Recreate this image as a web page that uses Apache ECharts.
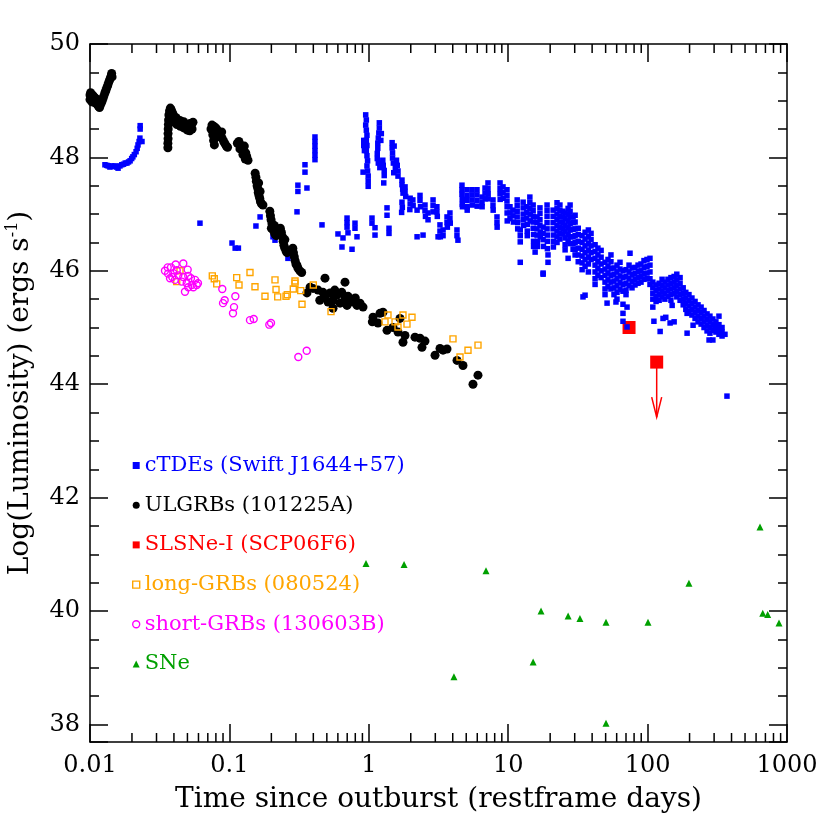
<!DOCTYPE html>
<html><head><meta charset="utf-8">
<script src="https://cdn.jsdelivr.net/npm/echarts@6/dist/echarts.min.js"></script>
<style>html,body{margin:0;padding:0;background:#fff}#c{width:830px;height:830px}</style>
</head><body><div id="c"></div>
<script>
const xTickLabels = ['0.01','0.1','1','10','100','1000'];
const xMinorTicks = [0.02,0.03,0.04,0.05,0.06,0.07,0.08,0.09,0.2,0.3,0.4,0.5,0.6,0.7,0.8,0.9,2,3,4,5,6,7,8,9,20,30,40,50,60,70,80,90,200,300,400,500,600,700,800,900];

const ctdeData = [
[0.0128,47.87],[0.0132,47.86],[0.0135,47.85],[0.0139,47.83],[0.0143,47.85],[0.0147,47.84],[0.0151,47.85],[0.0155,47.83],[0.0159,47.81],[0.0164,47.85],[0.0169,47.87],[0.0174,47.88],[0.0179,47.90],[0.0184,47.90],[0.0189,47.92],[0.0194,47.94],[0.0199,47.98],[0.0203,48.01],[0.0208,48.05],[0.0214,48.10],[0.0218,48.16],[0.0221,48.22],[0.0225,48.28],[0.0228,48.34],[0.0236,48.28],[0.0229,48.50],[0.0229,48.56],
[0.0615,46.84],[0.1044,46.49],[0.110,46.40],[0.116,46.40],[0.155,46.79],[0.166,46.95],[0.2055,46.60],[0.2124,46.54],[0.263,46.22],[0.3055,47.04],[0.310,47.40],[0.310,47.51],[0.360,47.46],[0.3485,47.74],[0.3485,47.87],[0.411,48.36],[0.411,48.28],[0.411,48.20],[0.411,48.12],[0.411,48.04],[0.411,47.96],[0.4616,46.81],
[0.601,46.65],[0.653,46.58],[0.709,46.67],[0.758,46.38],[0.796,46.84],[0.796,46.75],[0.823,46.60],[0.698,46.93],[0.698,46.85],[0.698,46.77],[0.642,46.42],[1.054,46.93],[1.054,46.84],[1.108,46.76],[1.108,46.63],[1.351,47.11],[1.351,46.98],[1.396,46.75],[1.396,46.66],
[0.95,48.75],[0.96,48.66],[0.95,48.57],[0.96,48.48],[0.97,48.39],[0.96,48.30],[0.97,48.21],[0.96,48.12],[0.97,48.03],[0.98,47.94],[0.97,47.85],[0.98,47.76],[0.99,47.67],[0.99,47.58],[0.99,47.49],[0.92,48.30],[0.92,48.21],[0.93,48.12],[0.91,47.74],
[1.19,48.61],[1.19,48.52],[1.18,48.43],[1.17,48.34],[1.16,48.25],[1.16,48.16],[1.15,48.07],[1.15,47.98],[1.17,47.90],[1.20,47.82],[1.26,47.95],[1.27,47.86],[1.29,47.77],[1.29,47.68],[1.28,47.55],[1.22,48.30],[1.23,48.42],
[1.47,48.26],[1.47,48.17],[1.48,48.08],[1.48,47.99],[1.50,47.90],[1.51,47.73],[1.52,48.20],[1.55,47.82],[1.58,47.95],[1.60,47.86],[1.62,47.76],[1.62,47.67],
[1.73,47.60],[1.73,47.52],[1.75,47.44],[1.76,47.37],[1.82,47.48],[1.82,47.40],[1.84,47.31],[1.73,47.21],[1.74,47.12],[1.72,47.03],
[1.98,47.28],[1.98,47.18],[1.97,47.08],[2.07,47.25],[2.08,47.15],[2.33,47.33],[2.33,47.24],[2.35,47.13],[2.22,47.07],
[2.53,47.16],[2.53,47.06],[2.55,46.96],[2.66,47.02],[2.66,46.90],[2.89,47.25],[2.89,47.15],[2.89,47.04],[3.08,47.13],[3.08,47.04],[3.10,46.96],
[3.24,46.81],[3.24,46.70],[3.26,46.60],[3.41,46.72],[3.41,46.62],[3.64,46.95],[3.64,46.85],[3.66,46.77],[3.82,47.02],[3.82,46.92],[3.84,46.84],
[4.29,46.72],[4.29,46.62],[4.36,46.54],[4.66,47.51],[4.66,47.43],[4.66,47.35],[4.68,47.26],[4.68,47.17],[4.70,47.13],
[5.06,47.43],[5.06,47.33],[5.06,47.24],[5.08,47.13],[5.08,47.07],[5.50,47.43],[5.50,47.34],[5.50,47.25],[5.52,47.16],
[5.97,47.43],[5.97,47.34],[5.97,47.24],[5.99,47.14],[6.49,47.30],[6.49,47.20],[6.50,47.13],[6.82,47.46],[6.82,47.37],[6.84,47.27],
[7.16,47.55],[7.16,47.45],[7.18,47.36],[7.18,47.27],[7.78,47.25],[7.78,47.15],[7.80,47.07],[8.31,46.95],[8.31,46.85],[8.33,46.77],
[8.74,47.55],[8.74,47.45],[8.74,47.36],[8.76,47.26],[9.18,47.48],[9.18,47.38],[9.20,47.28],
[9.80,47.43],[9.80,47.33],[9.80,47.23],[9.82,47.13],[9.82,47.02],[9.84,46.88],[10.3,47.13],[10.3,47.02],[10.3,46.92],[10.8,47.07],[10.8,46.97],[10.9,46.86],
[11.6,47.25],[11.6,47.15],[11.6,47.05],[11.6,46.95],[11.7,46.85],[11.7,46.74],[12.2,46.72],[12.2,46.62],[12.2,46.51],
[12.8,47.21],[12.8,47.11],[12.8,47.00],[12.8,46.90],[12.9,46.80],[13.6,47.13],[13.6,47.03],[13.6,46.93],[13.7,46.82],[13.7,46.70],[13.7,46.62],
[14.3,47.30],[14.3,47.20],[14.3,47.10],[14.4,47.00],[14.4,46.88],
[15.1,47.16],[15.1,47.06],[15.1,46.96],[15.1,46.86],[15.1,46.75],[15.2,46.64],[15.2,46.52],[15.2,46.43],
[16.1,46.95],[16.1,46.85],[16.1,46.74],[16.1,46.63],[16.2,46.52],[16.2,46.43],
[16.9,47.11],[16.9,47.01],[16.9,46.90],[16.9,46.80],[17.0,46.68],[17.0,46.60],
[17.8,46.77],[17.8,46.66],[17.8,46.55],[17.9,46.43],
[19.0,47.16],[19.0,47.06],[19.0,46.96],[19.0,46.85],[19.0,46.74],[19.1,46.63],[19.1,46.52],[19.1,46.39],[19.3,46.28],
[21.0,47.07],[21.0,46.96],[21.0,46.85],[21.0,46.74],[21.1,46.63],[21.1,46.52],[21.1,46.42],
[17.8,45.96],[12.2,46.15],[2.22,46.60],[2.45,46.63],[3.14,46.60],
[22.4,47.20],[22.4,47.10],[22.4,47.00],[22.4,46.90],[22.4,46.80],[22.4,46.70],[22.4,46.60],[22.4,46.50],
[23.5,47.16],[23.5,47.06],[23.5,46.96],[23.5,46.86],[23.5,46.76],[23.5,46.66],[23.5,46.56],
[24.7,47.05],[24.7,46.95],[24.7,46.85],[24.7,46.75],[24.7,46.65],
[25.6,47.02],[25.6,46.92],[25.6,46.80],[25.6,46.70],[25.6,46.58],[25.6,46.46],[25.6,46.37],
[26.9,47.10],[26.9,47.00],[26.9,46.88],[26.9,46.76],[26.9,46.64],[26.9,46.52],
[27.8,47.16],[27.8,47.05],[27.8,46.95],[27.8,46.83],[27.8,46.72],[27.8,46.60],[27.8,46.48],
[29.2,46.95],[29.2,46.85],[29.2,46.73],[29.2,46.60],[29.2,46.48],[29.2,46.38],
[30.2,46.98],[30.2,46.86],[30.2,46.74],[30.2,46.62],[30.2,46.50],[30.2,46.38],[30.2,46.28],
[31.8,46.75],[31.8,46.64],[31.8,46.52],[31.8,46.40],[31.8,46.28],[31.8,46.16],
[33.9,46.62],[33.9,46.50],[33.9,46.38],[33.9,46.26],[33.9,46.14],[33.9,46.02],
[35.6,46.68],[35.6,46.56],[35.6,46.44],[35.6,46.32],[35.6,46.20],[35.6,46.08],
[37.6,46.72],[37.6,46.60],[37.6,46.48],[37.6,46.36],[37.6,46.24],[37.6,46.12],[37.6,45.98],
[39.3,46.66],[39.3,46.55],[39.3,46.44],[39.3,46.32],[39.3,46.20],
[42.0,46.46],[42.0,46.34],[42.0,46.22],[42.0,46.10],[42.0,45.98],[42.0,45.86],[42.0,45.76],
[44.0,46.40],[44.0,46.28],[44.0,46.16],[44.0,46.04],[44.0,45.92],
[46.4,46.36],[46.4,46.24],[46.4,46.12],[46.4,46.00],[46.4,45.88],
[49.5,46.15],[49.5,46.03],[49.5,45.92],[49.5,45.80],[49.5,45.68],[49.5,45.58],
[52.0,46.20],[52.0,46.08],[52.0,45.96],[52.0,45.84],[52.0,45.72],
[54.6,46.28],[54.6,46.16],[54.6,46.04],[54.6,45.92],[54.6,45.80],[54.6,45.68],
[57.4,46.05],[57.4,45.94],[57.4,45.82],[57.4,45.70],[57.4,45.58],
[60.3,46.10],[60.3,45.98],[60.3,45.86],[60.3,45.74],[60.3,45.62],[60.3,45.50],
[63.4,46.15],[63.4,46.03],[63.4,45.91],[63.4,45.79],[63.4,45.67],
[66.6,46.00],[66.6,45.88],[66.6,45.76],[66.6,45.64],
[70.0,46.02],[70.0,45.90],[70.0,45.78],[70.0,45.66],[70.0,45.58],
[73.6,46.10],[73.6,45.98],[73.6,45.86],[73.6,45.74],
[77.3,46.05],[77.3,45.93],[77.3,45.81],[77.3,45.70],
[81.2,46.06],[81.2,45.95],[81.2,45.85],[81.2,45.75],
[85.4,46.10],[85.4,45.99],[85.4,45.88],[85.4,45.78],
[89.7,46.12],[89.7,46.00],[89.7,45.90],[89.7,45.80],
[94.2,46.18],[94.2,46.06],[94.2,45.95],[94.2,45.85],
[99.0,46.20],[99.0,46.08],[99.0,45.96],[99.0,45.86],
[104,46.22],[104,46.10],[104,45.98],[104,45.86],[104,45.76],
[109,45.80],[109,45.70],[109,45.60],[109,45.50],
[115,45.75],[115,45.65],[115,45.55],[115,45.46],
[121,45.78],[121,45.68],[121,45.58],[121,45.48],
[127,45.85],[127,45.74],[127,45.64],[127,45.54],
[133,45.80],[133,45.70],[133,45.60],[133,45.50],
[140,45.85],[140,45.75],[140,45.65],[140,45.55],
[147,45.88],[147,45.78],[147,45.68],[147,45.58],[147,45.48],
[155,45.90],[155,45.80],[155,45.70],[155,45.60],
[162,45.94],[162,45.84],[162,45.74],[162,45.64],[162,45.54],
[171,45.88],[171,45.78],[171,45.68],[171,45.58],[171,45.48],
[180,45.70],[180,45.60],[180,45.50],[180,45.40],
[188,45.62],[188,45.52],[188,45.42],[188,45.32],
[198,45.58],[198,45.48],[198,45.38],[198,45.28],
[208,45.52],[208,45.42],[208,45.32],[208,45.22],
[219,45.46],[219,45.36],[219,45.26],[219,45.16],
[230,45.40],[230,45.30],[230,45.20],[230,45.10],
[242,45.36],[242,45.26],[242,45.16],[242,45.06],
[254,45.30],[254,45.20],[254,45.10],[254,45.00],
[267,45.24],[267,45.14],[267,45.04],[267,44.94],
[280,45.20],[280,45.10],[280,45.00],[280,44.90],
[294,45.15],[294,45.05],[294,44.95],
[309,45.10],[309,45.00],[309,44.92],
[325,45.05],[325,44.96],[325,44.88],
[342,45.00],[342,44.92],[342,44.85],
[17.8,45.94],[19.3,46.15],[15.6,46.33],[26.9,46.22],[34.4,45.54],[35.6,45.57],[51.2,45.43],[59.3,45.45],[66.6,45.41],[71.2,45.36],[66.6,45.25],[66.6,45.11],[71.2,45.01],[74.8,46.31],[109,45.36],[111,45.11],[123,44.93],[129,45.16],[135,45.18],[150,45.39],[145,45.08],[155,45.10],[192,44.90],[192,45.25],[212,45.04],[276,44.78],[294,44.78],[304,45.02],[325,45.20],[359,44.88],[371,43.79]
];

const ulgrbData = [
[0.0100,49.10],[0.0100,49.02],[0.0101,49.14],[0.0102,49.06],[0.0103,48.98],[0.0104,49.10],[0.0105,49.03],[0.0106,49.08],[0.0107,48.97],[0.0108,49.05],[0.0109,49.00],[0.0110,49.04],[0.0111,48.95],[0.0112,48.99],[0.0113,48.93],[0.0114,48.96],[0.0115,48.90],[0.0116,48.92],[0.0117,48.88],[0.0118,48.91],[0.0120,48.95],[0.0122,48.99],[0.0124,49.04],[0.0126,49.09],[0.0128,49.14],[0.0130,49.18],[0.0132,49.23],[0.0134,49.27],[0.0136,49.32],[0.0138,49.36],[0.0140,49.40],[0.0142,49.44],[0.0143,49.48],[0.0144,49.42],
[0.0362,48.17],[0.0362,48.25],[0.0363,48.33],[0.0363,48.42],[0.0364,48.50],[0.0365,48.58],[0.0366,48.66],[0.0368,48.75],[0.0372,48.82],[0.0377,48.87],[0.0382,48.84],[0.0388,48.80],[0.0395,48.76],[0.0400,48.72],[0.0407,48.69],[0.0415,48.70],[0.0422,48.66],[0.0430,48.64],[0.0442,48.65],[0.0450,48.62],[0.0460,48.60],[0.0470,48.63],[0.0480,48.58],[0.0490,48.55],[0.0500,48.53],[0.0510,48.56],[0.0522,48.60],[0.0530,48.54],[0.0540,48.50],[0.0548,48.62],[0.0375,48.70],[0.0390,48.68],[0.0405,48.62],[0.0420,48.58],[0.0445,48.55],[0.0470,48.52],[0.0500,48.48],[0.0520,48.47],
[0.0738,48.50],[0.0750,48.57],[0.0770,48.55],[0.0790,48.53],[0.0810,48.50],[0.0830,48.46],[0.0850,48.43],[0.0870,48.38],[0.0890,48.33],[0.0910,48.28],[0.0930,48.24],[0.0950,48.20],[0.0970,48.18],[0.0760,48.40],[0.0770,48.30],[0.0780,48.22],[0.0800,48.35],[0.0880,48.45],[0.0760,48.48],
[0.114,48.25],[0.117,48.28],[0.120,48.22],[0.123,48.18],[0.126,48.13],[0.128,48.20],[0.131,48.08],[0.133,48.02],[0.136,47.95],[0.130,47.97],[0.125,48.05],[0.119,48.15],
[0.153,47.72],[0.155,47.65],[0.156,47.58],[0.158,47.50],[0.160,47.45],[0.161,47.38],[0.163,47.33],[0.165,47.28],[0.167,47.22],[0.170,47.18],[0.174,47.16],[0.162,47.55],[0.166,47.40],
[0.195,47.05],[0.197,46.97],[0.199,46.90],[0.202,46.83],[0.205,46.76],[0.208,46.70],[0.212,46.65],[0.217,46.62],[0.210,46.80],[0.200,46.75],
[0.232,46.75],[0.236,46.68],[0.240,46.60],[0.243,46.52],[0.246,46.45],[0.250,46.40],[0.255,46.35],[0.259,46.32],[0.250,46.55],
[0.285,46.40],[0.288,46.32],[0.292,46.25],[0.296,46.18],[0.300,46.12],[0.310,46.05],[0.320,46.00],[0.330,45.97],[0.305,46.10],
[0.360,45.61],[0.379,45.71],[0.398,45.69],[0.432,45.66],[0.469,45.62],[0.485,45.54],[0.527,45.61],[0.554,45.48],[0.591,45.57],[0.622,45.43],[0.675,45.80],[0.675,45.52],[0.698,45.39],[0.733,45.48],[0.770,45.45],[0.823,45.39],[0.865,45.43],[0.909,45.36],[0.554,45.34],[0.445,45.48],[0.510,45.45],[0.570,45.66],[0.640,45.62],[0.710,45.55],[0.800,45.52],[0.485,45.87],
[1.072,45.18],[1.060,45.10],[1.164,45.08],[1.203,45.25],[1.264,45.27],[1.351,44.95],[1.492,45.00],[1.620,44.92],[1.674,45.16],[1.759,44.74],[1.818,44.86],[2.145,44.83],[2.330,44.81],[2.530,44.76],[2.407,44.65],[2.986,44.51],[3.242,44.63],[3.407,44.60],[3.639,44.62],[4.293,44.42],[4.740,44.33],[6.07,44.16],[5.59,44.00]
];

const slsnData = [[73.6,45.00],[116.2,44.39]];
const slsnLimit = [[116.2,44.39,43.42]];

const longGrbData = [
[0.0754,45.91],[0.0779,45.86],[0.0811,45.77],[0.1128,45.88],[0.1172,45.75],[0.1405,45.97],[0.1526,45.72],[0.1800,45.55],[0.2124,45.84],[0.2160,45.67],[0.2221,45.54],[0.2547,45.55],[0.2603,45.58],[0.2873,45.68],[0.2955,45.82],[0.2955,45.78],[0.3248,45.65],[0.3318,45.41],[0.3999,45.75],[0.5357,45.28],[0.0442,46.00],[0.0419,45.81],
[1.373,45.22],[1.307,45.10],[1.542,45.10],[1.620,45.01],[1.759,45.22],[1.879,45.06],[2.041,45.18],[4.018,44.80],[4.511,44.48],[5.148,44.60],[6.072,44.69]
];

const shortGrbData = [
[0.0361,46.06],[0.0381,46.06],[0.0412,46.11],[0.0467,46.13],[0.0502,46.02],[0.0363,45.95],[0.0396,45.96],[0.0430,45.92],[0.0467,45.89],[0.0507,45.91],[0.0530,45.87],[0.0567,45.84],[0.0375,45.87],[0.0407,45.84],[0.0455,45.81],[0.0494,45.78],[0.0537,45.75],[0.0583,45.75],[0.0551,45.71],[0.0480,45.63],[0.0507,45.71],[0.0389,45.89],[0.0419,46.01],[0.0345,46.00],[0.0595,45.78],
[0.0889,45.68],[0.1103,45.55],[0.0925,45.48],[0.0900,45.43],[0.1079,45.36],[0.1061,45.25],[0.1405,45.13],[0.1494,45.15],[0.1933,45.05],[0.1988,45.08],[0.3122,44.48],[0.3585,44.59]
];

const sneData = [
[0.955,40.84],[1.79,40.82],[4.08,38.84],[6.93,40.71],[15.1,39.10],[17.2,40.00],[26.9,39.91],[32.7,39.87],[50.3,39.80],[50.3,38.02],[100.7,39.80],[198,40.49],[640,41.48],[670,39.96],[727,39.94],[876,39.79]
];

const seriesNames = ['cTDEs (Swift J1644+57)','ULGRBs (101225A)','SLSNe-I (SCP06F6)','long-GRBs (080524)','short-GRBs (130603B)','SNe'];
const seriesColors = ['#0000ff','#000000','#ff0000','#ffa500','#ff00ff','#00a000'];

const FONT = 'DejaVu Serif';
const chart = echarts.init(document.getElementById('c'), null, {renderer:'canvas'});

function xAxisDef(pos, showLabel) {
  return {
    type:'log', logBase:10, min:0.01, max:1000, splitNumber:5, position:pos,
    axisLine:{show:true, onZero:false, lineStyle:{color:'#000', width:1.5}},
    axisTick:{show:true, inside:true, length:18, lineStyle:{color:'#000', width:1.5}},
    minorTick:{show:false},
    splitLine:{show:false}, minorSplitLine:{show:false},
    axisLabel:{show:showLabel, margin:12, fontFamily:FONT, fontSize:24, color:'#000',
      formatter: v => { const i = Math.round(Math.log10(v)) + 2; return xTickLabels[i] || ''; }},
    name: showLabel ? 'Time since outburst (restframe days)' : '',
    nameLocation:'middle', nameGap:44,
    nameTextStyle:{fontFamily:FONT, fontSize:28, color:'#000'}
  };
}
function yAxisDef(pos, showLabel) {
  return {
    type:'value', min:37.69, max:50, splitNumber:6, position:pos,
    axisLine:{show:true, onZero:false, lineStyle:{color:'#000', width:1.5}},
    axisTick:{show:true, inside:true, length:18, lineStyle:{color:'#000', width:1.5}},
    minorTick:{show:true, splitNumber:4, length:9, lineStyle:{color:'#000', width:1.5}},
    splitLine:{show:false}, minorSplitLine:{show:false},
    axisLabel:{show:showLabel, showMinLabel:false, margin:10, fontFamily:FONT, fontSize:24, color:'#000',
      formatter: v => (Math.abs(v - Math.round(v)) < 1e-6 && Math.round(v) % 2 === 0) ? String(Math.round(v)) : ''},
    name: showLabel ? 'Log(Luminosity) (ergs s{sup|-1})' : '',
    nameLocation:'middle', nameGap:54,
    nameTextStyle:{fontFamily:FONT, fontSize:28, color:'#000',
      rich:{sup:{fontFamily:FONT, fontSize:16, color:'#000', padding:[0,0,15,0]}}}
  };
}

const option = {
  animation:false,
  backgroundColor:'#ffffff',
  grid:{left:90, right:43, top:44, bottom:88, outerBoundsMode:'none'},
  xAxis:[xAxisDef('bottom', true), xAxisDef('top', false)],
  yAxis:[yAxisDef('left', true), yAxisDef('right', false)],
  legend:{
    orient:'vertical', left:127, top:450, itemWidth:7, itemHeight:7, itemGap:18.7,
    selectedMode:false,
    textStyle:{fontFamily:FONT, fontSize:21},
    data:[
      {name:seriesNames[0], icon:'rect', textStyle:{color:seriesColors[0]}},
      {name:seriesNames[1], icon:'circle', textStyle:{color:seriesColors[1]}},
      {name:seriesNames[2], icon:'rect', textStyle:{color:seriesColors[2]}},
      {name:seriesNames[3], icon:'rect', textStyle:{color:seriesColors[3]}, itemStyle:{color:'rgba(0,0,0,0)', borderColor:seriesColors[3], borderWidth:1.4}},
      {name:seriesNames[4], icon:'circle', textStyle:{color:seriesColors[4]}, itemStyle:{color:'rgba(0,0,0,0)', borderColor:seriesColors[4], borderWidth:1.4}},
      {name:seriesNames[5], icon:'triangle', textStyle:{color:seriesColors[5]}}
    ]
  },
  series:[
    {name:'x minor ticks', type:'custom', silent:true, clip:false, z:5,
      data: xMinorTicks.map(v => [v, 44]), encode:{x:0, y:1},
      renderItem:(params, api) => {
        const cs = params.coordSys;
        const x = api.coord([api.value(0), api.value(1)])[0];
        const yb = cs.y + cs.height, yt = cs.y;
        const st = {stroke:'#000', lineWidth:1.5};
        return {type:'group', children:[
          {type:'line', shape:{x1:x, y1:yb, x2:x, y2:yb-9}, style:st},
          {type:'line', shape:{x1:x, y1:yt, x2:x, y2:yt+9}, style:st}
        ]};
      }},
    {name:'SLSNe-I upper limit', type:'custom', data:slsnLimit, encode:{x:0, y:1},
      renderItem:(params, api) => {
        const p0 = api.coord([api.value(0), api.value(1)]);
        const p1 = api.coord([api.value(0), api.value(2)]);
        return {type:'group', children:[
          {type:'line', shape:{x1:p0[0], y1:p0[1], x2:p1[0], y2:p1[1]}, style:{stroke:'#ff0000', lineWidth:1.5}},
          {type:'polyline', shape:{points:[[p1[0]-5, p1[1]-20],[p1[0], p1[1]],[p1[0]+5, p1[1]-20]]}, style:{stroke:'#ff0000', lineWidth:1.5, fill:null}}
        ]};
      }},
    {name:seriesNames[2], type:'scatter', data:slsnData, symbol:'rect', symbolSize:13, itemStyle:{color:seriesColors[2], opacity:1}},
    {name:seriesNames[0], type:'scatter', data:ctdeData, symbol:'rect', symbolSize:5.5, itemStyle:{color:seriesColors[0], opacity:1}},
    {name:seriesNames[1], type:'scatter', data:ulgrbData, symbol:'circle', symbolSize:9, itemStyle:{color:seriesColors[1], opacity:1}},
    {name:seriesNames[3], type:'scatter', data:longGrbData, symbol:'rect', symbolSize:6, itemStyle:{color:'rgba(0,0,0,0)', borderColor:seriesColors[3], borderWidth:1.4, opacity:1}},
    {name:seriesNames[4], type:'scatter', data:shortGrbData, symbol:'circle', symbolSize:7, itemStyle:{color:'rgba(0,0,0,0)', borderColor:seriesColors[4], borderWidth:1.4, opacity:1}},
    {name:seriesNames[5], type:'scatter', data:sneData, symbol:'triangle', symbolSize:7, itemStyle:{color:seriesColors[5], opacity:1}}
  ]
};
chart.setOption(option);
</script></body></html>
